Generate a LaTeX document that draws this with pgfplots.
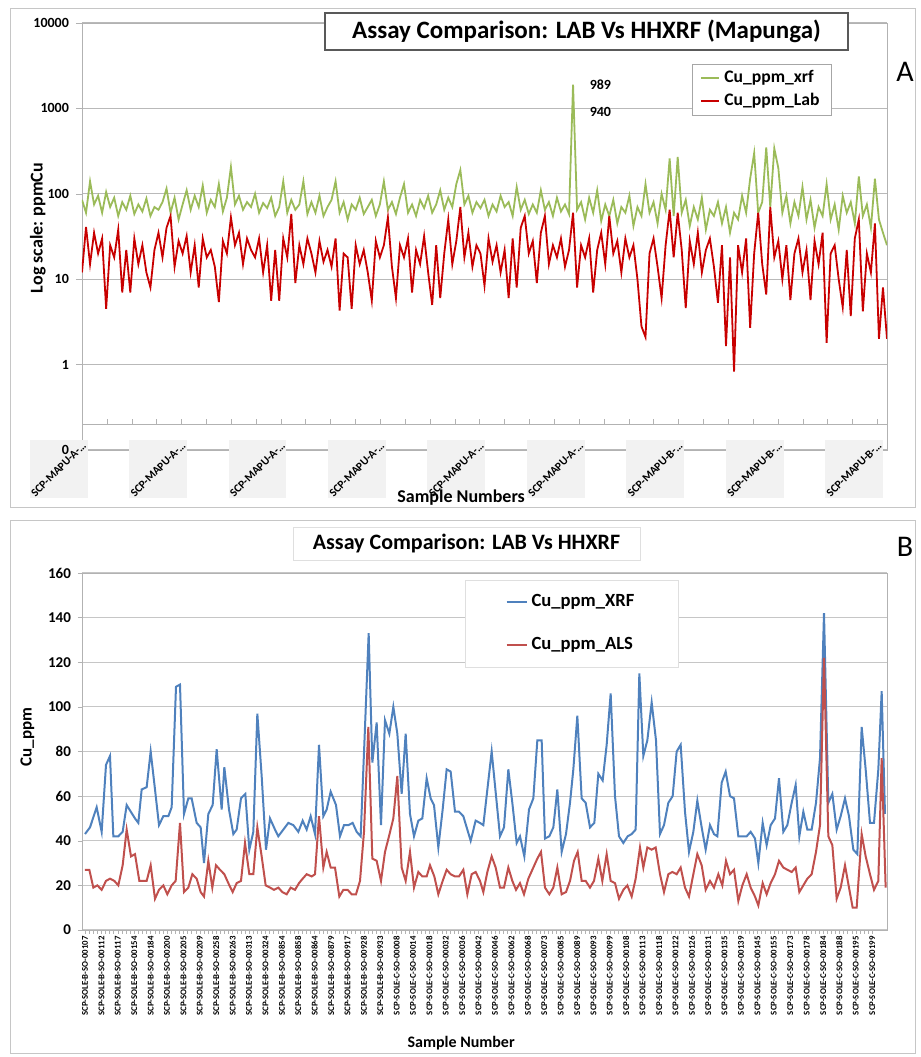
\documentclass[border=0pt]{standalone}
\usepackage{fontspec}
\setmainfont{Carlito}
\usepackage{pgfplots}
\pgfplotsset{compat=1.18}
\definecolor{xrfgreen}{RGB}{155,187,89}
\definecolor{labred}{RGB}{200,0,0}
\definecolor{xrfblue}{RGB}{79,129,189}
\definecolor{alsred}{RGB}{192,80,77}
\newcommand\mapu[1]{\rotatebox{45}{SCP-MAPU-#1-\ldots}}
\newcommand\sob[1]{SCP-SOLE-B-SO-#1}
\newcommand\soc[1]{SCP-SOLE-C-SO-#1}
\begin{document}
\begin{tikzpicture}
\path[use as bounding box] (0,0) rectangle (460.5pt,528.5pt);
\draw[gray!45] (5pt,275pt) rectangle (457.5pt,524.5pt);
\draw[gray!45] (5pt,2pt) rectangle (457.5pt,268.5pt);

% ---------------- panel A ----------------
\begin{axis}[
  at={(41pt,303.5pt)}, anchor=south west, scale only axis,
  width=402.5pt, height=213.5pt,
  ymode=log, log basis y=10,
  xmin=0, xmax=1000, ymin=0.1, ymax=10000,
  ytick={0.1,1,10,100,1000,10000}, yticklabels={0,1,10,100,1000,10000},
  yminorticks=false, ytick pos=left,
  ymajorgrids, grid style={gray!55, line width=0.6pt},
  axis line style={gray!60},
  tick align=outside, major tick length=3pt, ytick style={gray!60},
  xtick={0,123.5,...,988}, xtick style={draw=none},
  xticklabels={\mapu{A},\mapu{A},\mapu{A},\mapu{A},\mapu{A},\mapu{A},\mapu{B},\mapu{B},\mapu{B}},
  xticklabel style={anchor=north east, fill=gray!10, inner sep=0.3pt, xshift=3pt, yshift=8pt,
    font=\fontsize{5.7}{6}\selectfont\bfseries},
  yticklabel style={font=\fontsize{7}{8}\selectfont\bfseries},
  /pgf/number format/assume math mode=true,
  ylabel={Log scale: ppmCu},
  ylabel style={at={(axis description cs:-0.055,0.52)}, anchor=center, font=\fontsize{9}{10}\selectfont\bfseries},
  xlabel={Sample Numbers},
  xlabel style={at={(axis description cs:0.471,-0.112)}, anchor=center, font=\fontsize{9}{10}\selectfont\bfseries},
  legend cell align=left,
  legend image code/.code={\draw[#1] (0pt,0pt) -- (9pt,0pt);},
  legend style={at={(axis description cs:0.758,0.904)}, anchor=north west, draw=gray!70, fill=white,
    font=\fontsize{8.8}{10}\selectfont\bfseries, inner xsep=4pt, inner ysep=1pt, row sep=0pt},
]
\addplot[xrfgreen, line width=0.9pt] coordinates {
(0,85)(5,60)(10,140)(15,75)(20,95)(25,60)(30,105)(35,70)(40,90)(45,55)(50,80)(55,65)(60,95)(65,58)(70,75)(75,62)(80,88)(85,55)(90,70)(95,65)(100,80)(105,115)(110,60)(115,90)(120,50)(125,75)(130,110)(135,65)(140,95)(145,70)(150,125)(155,60)(160,85)(165,70)(170,130)(175,62)(180,90)(185,206)(190,75)(195,95)(200,65)(205,80)(210,70)(215,100)(220,60)(225,78)(230,68)(235,90)(240,55)(245,70)(250,140)(255,60)(260,85)(265,65)(270,75)(275,140)(280,58)(285,80)(290,60)(295,95)(300,55)(305,70)(310,85)(315,140)(320,60)(325,80)(330,50)(335,75)(340,65)(345,90)(350,58)(355,70)(360,85)(365,55)(370,75)(375,140)(380,65)(385,80)(390,58)(395,90)(400,130)(405,60)(410,75)(415,55)(420,85)(425,68)(430,95)(435,60)(440,75)(445,110)(450,65)(455,90)(460,70)(465,130)(470,190)(475,75)(480,95)(485,60)(490,80)(495,68)(500,85)(505,55)(510,75)(515,62)(520,95)(525,70)(530,80)(535,55)(540,120)(545,65)(550,85)(555,58)(560,75)(565,60)(570,110)(575,65)(580,80)(585,55)(590,90)(595,62)(600,75)(605,58)(610,1900)(615,65)(620,80)(625,50)(630,90)(635,60)(640,110)(645,48)(650,75)(655,55)(660,85)(665,45)(670,70)(675,60)(680,95)(685,42)(690,70)(695,55)(700,130)(705,60)(710,80)(715,45)(720,100)(725,65)(730,260)(735,55)(740,270)(745,60)(750,85)(755,42)(760,70)(765,50)(770,90)(775,38)(780,65)(785,55)(790,80)(795,45)(800,70)(805,35)(810,60)(815,50)(820,95)(825,60)(830,150)(835,300)(840,60)(845,80)(850,350)(855,70)(860,340)(865,200)(870,60)(875,95)(880,45)(885,80)(890,55)(895,120)(900,50)(905,85)(910,40)(915,70)(920,55)(925,130)(930,50)(935,75)(940,38)(945,95)(950,60)(955,80)(960,45)(965,160)(970,55)(975,75)(980,40)(985,150)(990,50)(995,35)(1000,25)
};
\addlegendentry{Cu\_ppm\_xrf}
\addplot[labred, line width=0.9pt] coordinates {
(0,12)(5,41)(10,15)(15,35)(20,20)(25,30)(30,4.5)(35,25)(40,18)(45,38)(50,7)(55,22)(60,7)(65,30)(70,15)(75,25)(80,12)(85,8)(90,22)(95,35)(100,18)(105,40)(110,55)(115,14)(120,28)(125,20)(130,32)(135,12)(140,25)(145,8)(150,30)(155,18)(160,22)(165,14)(170,5.4)(175,28)(180,20)(185,53)(190,25)(195,35)(200,15)(205,30)(210,22)(215,18)(220,30)(225,12)(230,25)(235,5.6)(240,22)(245,5.6)(250,30)(255,18)(260,58)(265,9)(270,25)(275,15)(280,30)(285,20)(290,12)(295,28)(300,16)(305,22)(310,14)(315,30)(320,4.3)(325,20)(330,18)(335,4.5)(340,25)(345,15)(350,22)(355,12)(360,5.6)(365,28)(370,18)(375,25)(380,53)(385,14)(390,6)(395,25)(400,18)(405,30)(410,7)(415,22)(420,15)(425,32)(430,12)(435,5)(440,25)(445,6)(450,20)(455,50)(460,15)(465,28)(470,70)(475,18)(480,35)(485,14)(490,25)(495,20)(500,8.4)(505,30)(510,16)(515,25)(520,12)(525,22)(530,6)(535,30)(540,8)(545,40)(550,55)(555,20)(560,28)(565,9)(570,35)(575,55)(580,15)(585,25)(590,18)(595,30)(600,14)(605,22)(610,60)(615,8)(620,25)(625,18)(630,30)(635,7)(640,22)(645,35)(650,15)(655,55)(660,20)(665,28)(670,12)(675,30)(680,18)(685,25)(690,10)(695,2.8)(700,2.1)(705,20)(710,30)(715,14)(720,6)(725,25)(730,65)(735,18)(740,60)(745,22)(750,4.6)(755,28)(760,15)(765,35)(770,12)(775,22)(780,30)(785,14)(790,5.3)(795,25)(800,1.65)(805,18)(810,0.83)(815,25)(820,12)(825,30)(830,2.7)(835,20)(840,60)(845,15)(850,6.6)(855,70)(860,18)(865,28)(870,10)(875,25)(880,5.7)(885,20)(890,30)(895,12)(900,22)(905,5.7)(910,28)(915,15)(920,35)(925,1.8)(930,20)(935,25)(940,10)(945,4.7)(950,22)(955,3.7)(960,30)(965,50)(970,4.2)(975,20)(980,12)(985,45)(990,2.0)(995,8)(1000,2)
};
\addlegendentry{Cu\_ppm\_Lab}
\node[anchor=west, font=\fontsize{7}{8}\selectfont\bfseries] at (axis cs:622,1900) {989};
\node[anchor=west, font=\fontsize{7}{8}\selectfont\bfseries] at (axis cs:622,920) {940};
\end{axis}

% category axis line of panel A (crosses above the 0 line)
\begin{axis}[
  at={(41pt,316.5pt)}, anchor=south west, scale only axis,
  width=402.5pt, height=5pt,
  xmin=0, xmax=1000, ymin=0, ymax=1,
  axis x line=bottom, axis y line=none, axis line style={gray!60,-},
  xtick={0,30.875,...,1000}, xticklabels={,,},
  tick align=inside, major tick length=2.5pt, xtick style={gray!60},
]
\addplot[draw=none] coordinates {(0,0)};
\end{axis}

% ---------------- panel B ----------------
\begin{axis}[
  at={(41pt,63.5pt)}, anchor=south west, scale only axis,
  width=402.5pt, height=178.5pt,
  xmin=6, xmax=2421, ymin=0, ymax=160,
  ytick={0,20,...,160},
  ymajorgrids, grid style={gray!45, line width=0.6pt},
  axis line style={gray!60},
  tick align=outside, major tick length=2pt, minor tick length=2pt, tick style={gray!60},
  xtick pos=left, ytick pos=left,
  xtick={15,64.2,...,2378}, minor x tick num=3,
  xticklabels={\sob{00107},\sob{00112},\sob{00117},\sob{00154},\sob{00184},\sob{00200},\sob{00205},\sob{00209},\sob{00258},\sob{00263},\sob{00313},\sob{00324},\sob{00854},\sob{00858},\sob{00864},\sob{00879},\sob{00917},\sob{00928},\sob{00933},\soc{00008},\soc{00014},\soc{00018},\soc{00032},\soc{00036},\soc{00042},\soc{00046},\soc{00062},\soc{00068},\soc{00073},\soc{00085},\soc{00089},\soc{00093},\soc{00099},\soc{00108},\soc{00113},\soc{00118},\soc{00122},\soc{00126},\soc{00131},\soc{00135},\soc{00139},\soc{00145},\soc{00155},\soc{00173},\soc{00178},\soc{00184},\soc{00188},\soc{00195},\soc{00199}},
  xticklabel style={rotate=90, anchor=east, inner sep=1pt, font=\fontsize{4.4}{5}\selectfont\bfseries},
  yticklabel style={font=\fontsize{7.5}{8}\selectfont\bfseries},
  /pgf/number format/assume math mode=true,
  ylabel={Cu\_ppm},
  ylabel style={at={(axis description cs:-0.068,0.54)}, anchor=center, font=\fontsize{8.5}{10}\selectfont\bfseries},
  xlabel={Sample Number},
  xlabel style={at={(axis description cs:0.471,-0.317)}, anchor=center, font=\fontsize{8}{10}\selectfont\bfseries},
  legend cell align=left,
  legend image code/.code={\draw[#1] (0pt,0pt) -- (10pt,0pt);},
  legend style={at={(axis description cs:0.476,0.980)}, anchor=north west, draw=gray!25, fill=white,
    font=\fontsize{9.3}{10}\selectfont\bfseries, inner xsep=20pt, inner ysep=5pt, row sep=10pt},
]
\addplot[xrfblue, line width=1pt] coordinates {
(15,43)(30,46)(50,55)(65,44)(78,74)(90,78)(100,42)(115,42)(128,44)(140,56)(165,50)(175,48)(185,63)(200,64)(212,80)(225,63)(237,47)(250,51)(265,51)(275,55)(288,109)(300,110)(312,52)(325,59)(335,59)(350,48)(362,46)(372,30)(385,52)(398,56)(410,81)(425,54)(433,73)(447,54)(460,43)(470,45)(483,59)(496,61)(508,36)(520,44)(532,97)(545,69)(558,36)(570,50)(585,45)(595,42)(610,45)(625,48)(640,47)(655,44)(668,49)(680,45)(692,51)(705,43)(717,83)(730,51)(740,54)(752,62)(768,56)(780,42)(792,47)(805,47)(818,48)(830,44)(842,42)(854,87)(866,133)(877,75)(890,93)(903,47)(915,94)(928,88)(940,100)(952,88)(965,61)(977,88)(990,52)(1002,42)(1015,49)(1027,50)(1040,68)(1052,59)(1062,56)(1075,37)(1088,54)(1100,72)(1112,71)(1125,53)(1137,53)(1150,51)(1160,46)(1172,40)(1187,49)(1200,48)(1210,47)(1235,80)(1260,42)(1272,46)(1285,72)(1297,57)(1310,39)(1320,42)(1333,33)(1347,54)(1360,59)(1372,85)(1385,85)(1395,41)(1408,42)(1420,46)(1432,63)(1445,35)(1458,43)(1470,57)(1480,72)(1492,96)(1505,59)(1517,57)(1530,46)(1543,48)(1555,70)(1568,67)(1580,83)(1592,106)(1605,60)(1617,42)(1630,39)(1643,42)(1655,43)(1667,45)(1678,115)(1690,78)(1702,85)(1715,102)(1728,85)(1740,43)(1752,47)(1765,57)(1778,60)(1790,80)(1802,83)(1815,53)(1827,35)(1840,44)(1852,58)(1865,46)(1877,36)(1890,47)(1902,43)(1912,42)(1925,66)(1937,71)(1950,60)(1962,59)(1975,42)(1987,42)(2000,42)(2012,44)(2025,41)(2035,30)(2048,48)(2060,38)(2072,47)(2085,50)(2097,68)(2110,44)(2122,47)(2135,57)(2147,65)(2158,42)(2170,53)(2182,45)(2195,45)(2208,57)(2220,77)(2232,142)(2245,57)(2257,61)(2270,45)(2282,51)(2295,59)(2307,51)(2320,36)(2332,34)(2345,91)(2357,72)(2370,48)(2382,48)(2395,72)(2405,107)(2415,52)
};
\addlegendentry{Cu\_ppm\_XRF}
\addplot[alsred, line width=1pt] coordinates {
(15,27)(28,27)(40,19)(52,20)(65,18)(78,22)(90,23)(103,22)(115,20)(128,29)(140,45)(153,33)(165,34)(178,22)(190,22)(200,22)(212,29)(225,14)(237,18)(250,20)(262,16)(275,20)(287,22)(300,48)(312,17)(325,19)(337,25)(350,23)(362,17)(372,15)(385,31)(397,19)(408,29)(420,27)(433,25)(445,21)(458,17)(470,21)(483,22)(495,39)(508,25)(520,25)(532,46)(545,33)(557,20)(570,19)(582,18)(595,19)(607,17)(620,16)(632,19)(645,18)(657,21)(668,23)(680,25)(695,24)(705,25)(717,51)(730,28)(740,35)(752,28)(765,28)(778,15)(790,18)(803,18)(815,16)(828,16)(840,22)(852,44)(865,91)(877,32)(890,31)(903,22)(915,35)(927,42)(940,50)(952,69)(965,28)(977,22)(990,35)(1002,19)(1015,26)(1027,24)(1040,24)(1050,29)(1063,24)(1075,16)(1088,22)(1100,27)(1112,25)(1125,24)(1137,24)(1150,27)(1162,16)(1175,25)(1187,26)(1200,22)(1210,17)(1222,26)(1235,33)(1247,28)(1260,19)(1272,19)(1285,28)(1297,22)(1308,18)(1320,21)(1332,16)(1345,23)(1360,28)(1372,32)(1383,35)(1395,19)(1408,16)(1420,19)(1432,28)(1445,16)(1458,17)(1470,22)(1482,31)(1493,35)(1505,22)(1517,22)(1530,19)(1542,22)(1555,32)(1567,22)(1580,34)(1592,22)(1605,21)(1617,14)(1630,18)(1642,20)(1655,15)(1667,23)(1680,37)(1690,28)(1702,37)(1715,36)(1727,37)(1740,25)(1752,17)(1765,25)(1777,26)(1790,25)(1802,28)(1815,19)(1827,15)(1840,25)(1852,34)(1865,29)(1877,18)(1890,22)(1902,19)(1915,25)(1927,20)(1938,31)(1950,25)(1962,27)(1975,13)(1987,20)(2000,25)(2012,19)(2025,15)(2035,11)(2048,21)(2060,16)(2072,21)(2085,25)(2097,31)(2110,28)(2122,27)(2135,26)(2147,28)(2158,17)(2170,20)(2182,23)(2195,25)(2208,35)(2220,47)(2232,122)(2245,42)(2257,38)(2270,14)(2282,19)(2295,29)(2307,19)(2318,10)(2330,10)(2345,43)(2357,33)(2370,25)(2382,18)(2395,22)(2405,77)(2417,19)
};
\addlegendentry{Cu\_ppm\_ALS}
\end{axis}

% titles and panel letters
\node[draw=gray!70!black, fill=white, line width=0.6pt, minimum width=261.5pt, minimum height=18.5pt,
  font=\fontsize{12.5}{14}\selectfont\bfseries] at (293.25pt,512.75pt) {Assay Comparison: LAB Vs HHXRF (Mapunga)};
\node[draw=gray!25, fill=white, minimum width=173.5pt, minimum height=16.5pt,
  font=\fontsize{11}{13}\selectfont\bfseries] at (233.25pt,256.75pt) {Assay Comparison: LAB Vs HHXRF};
\node[font=\fontsize{15}{18}\selectfont] at (452.5pt,492.5pt) {A};
\node[font=\fontsize{15}{18}\selectfont] at (452.5pt,255.25pt) {B};
\end{tikzpicture}
\end{document}
